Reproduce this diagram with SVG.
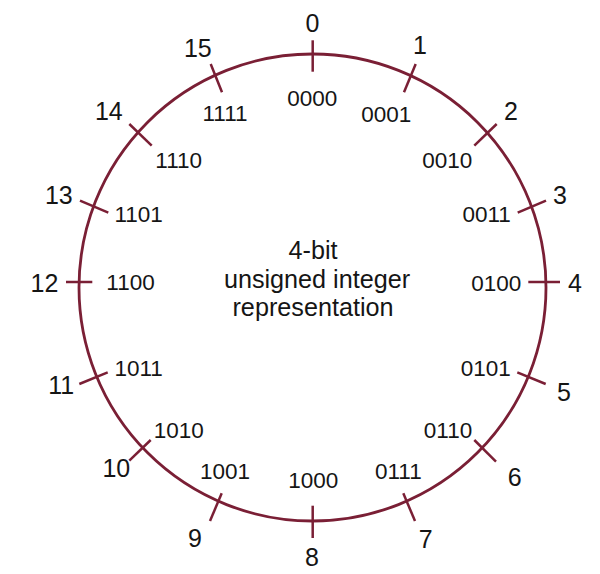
<svg xmlns="http://www.w3.org/2000/svg" width="600" height="574" viewBox="0 0 600 574">
<style>
.ring{fill:none;stroke:#7a1f35;stroke-width:2.8}
.tick{stroke:#7a1f35;stroke-width:2.5;fill:none}
text{font-family:"Liberation Sans",Arial,sans-serif;fill:#151515;text-anchor:middle}
.num{font-size:25px}
.bin{font-size:22.5px}
.ctr{font-size:25.2px}
</style>
<rect width="600" height="574" fill="#ffffff"/>
<g id="ring"><circle class="ring" cx="312.5" cy="287.5" r="233.5"/></g>
<g id="connectors">
<line class="tick" x1="312.7" y1="40.3" x2="312.7" y2="71.7"/>
<line class="tick" x1="415.7" y1="64" x2="404" y2="92.3"/>
<line class="tick" x1="496.7" y1="124" x2="474.3" y2="145.7"/>
<line class="tick" x1="546" y1="200.7" x2="517.7" y2="212.7"/>
<line class="tick" x1="528.3" y1="282" x2="560" y2="282"/>
<line class="tick" x1="517.3" y1="372.3" x2="545.7" y2="384"/>
<line class="tick" x1="474.3" y1="440" x2="496" y2="461.7"/>
<line class="tick" x1="403.3" y1="493.3" x2="415" y2="521"/>
<line class="tick" x1="312.7" y1="505.7" x2="312.7" y2="538"/>
<line class="tick" x1="221.7" y1="493.3" x2="210" y2="521"/>
<line class="tick" x1="150.7" y1="440" x2="129.3" y2="460.7"/>
<line class="tick" x1="107.7" y1="372.3" x2="79.3" y2="384"/>
<line class="tick" x1="66" y1="282" x2="92.3" y2="282"/>
<line class="tick" x1="80" y1="200.7" x2="108.3" y2="212.7"/>
<line class="tick" x1="129.3" y1="124" x2="151.7" y2="145.7"/>
<line class="tick" x1="210.7" y1="64" x2="222" y2="92.3"/>
</g>
<g id="n0"><text class="num" x="312.5" y="31.7">0</text><text class="bin" x="312.3" y="106">0000</text></g>
<g id="n1"><text class="num" x="420" y="54">1</text><text class="bin" x="386.3" y="121.7">0001</text></g>
<g id="n2"><text class="num" x="511" y="120">2</text><text class="bin" x="447.3" y="168.3">0010</text></g>
<g id="n3"><text class="num" x="560" y="204.3">3</text><text class="bin" x="486.7" y="222.3">0011</text></g>
<g id="n4"><text class="num" x="575" y="291.7">4</text><text class="bin" x="496.3" y="290.7">0100</text></g>
<g id="n5"><text class="num" x="564" y="401">5</text><text class="bin" x="485.8" y="376">0101</text></g>
<g id="n6"><text class="num" x="514.7" y="485.7">6</text><text class="bin" x="448" y="437.7">0110</text></g>
<g id="n7"><text class="num" x="425.7" y="548.3">7</text><text class="bin" x="398.3" y="479">0111</text></g>
<g id="n8"><text class="num" x="312" y="566">8</text><text class="bin" x="313.3" y="488.3">1000</text></g>
<g id="n9"><text class="num" x="195" y="547.3">9</text><text class="bin" x="225" y="479.3">1001</text></g>
<g id="n10"><text class="num" x="116.3" y="476.7">10</text><text class="bin" x="178.7" y="437.7">1010</text></g>
<g id="n11"><text class="num" x="61.3" y="394">11</text><text class="bin" x="138.7" y="376">1011</text></g>
<g id="n12"><text class="num" x="44.5" y="291.7">12</text><text class="bin" x="130.5" y="290">1100</text></g>
<g id="n13"><text class="num" x="58.8" y="204.3">13</text><text class="bin" x="138.7" y="222.3">1101</text></g>
<g id="n14"><text class="num" x="108.8" y="120">14</text><text class="bin" x="178.7" y="168.3">1110</text></g>
<g id="n15"><text class="num" x="197.8" y="57.3">15</text><text class="bin" x="225" y="120.7">1111</text></g>
<g id="center"><text class="ctr" x="313" y="259.3">4-bit</text><text class="ctr" x="317" y="288.3">unsigned integer</text><text class="ctr" x="313" y="315.7">representation</text></g>
</svg>
